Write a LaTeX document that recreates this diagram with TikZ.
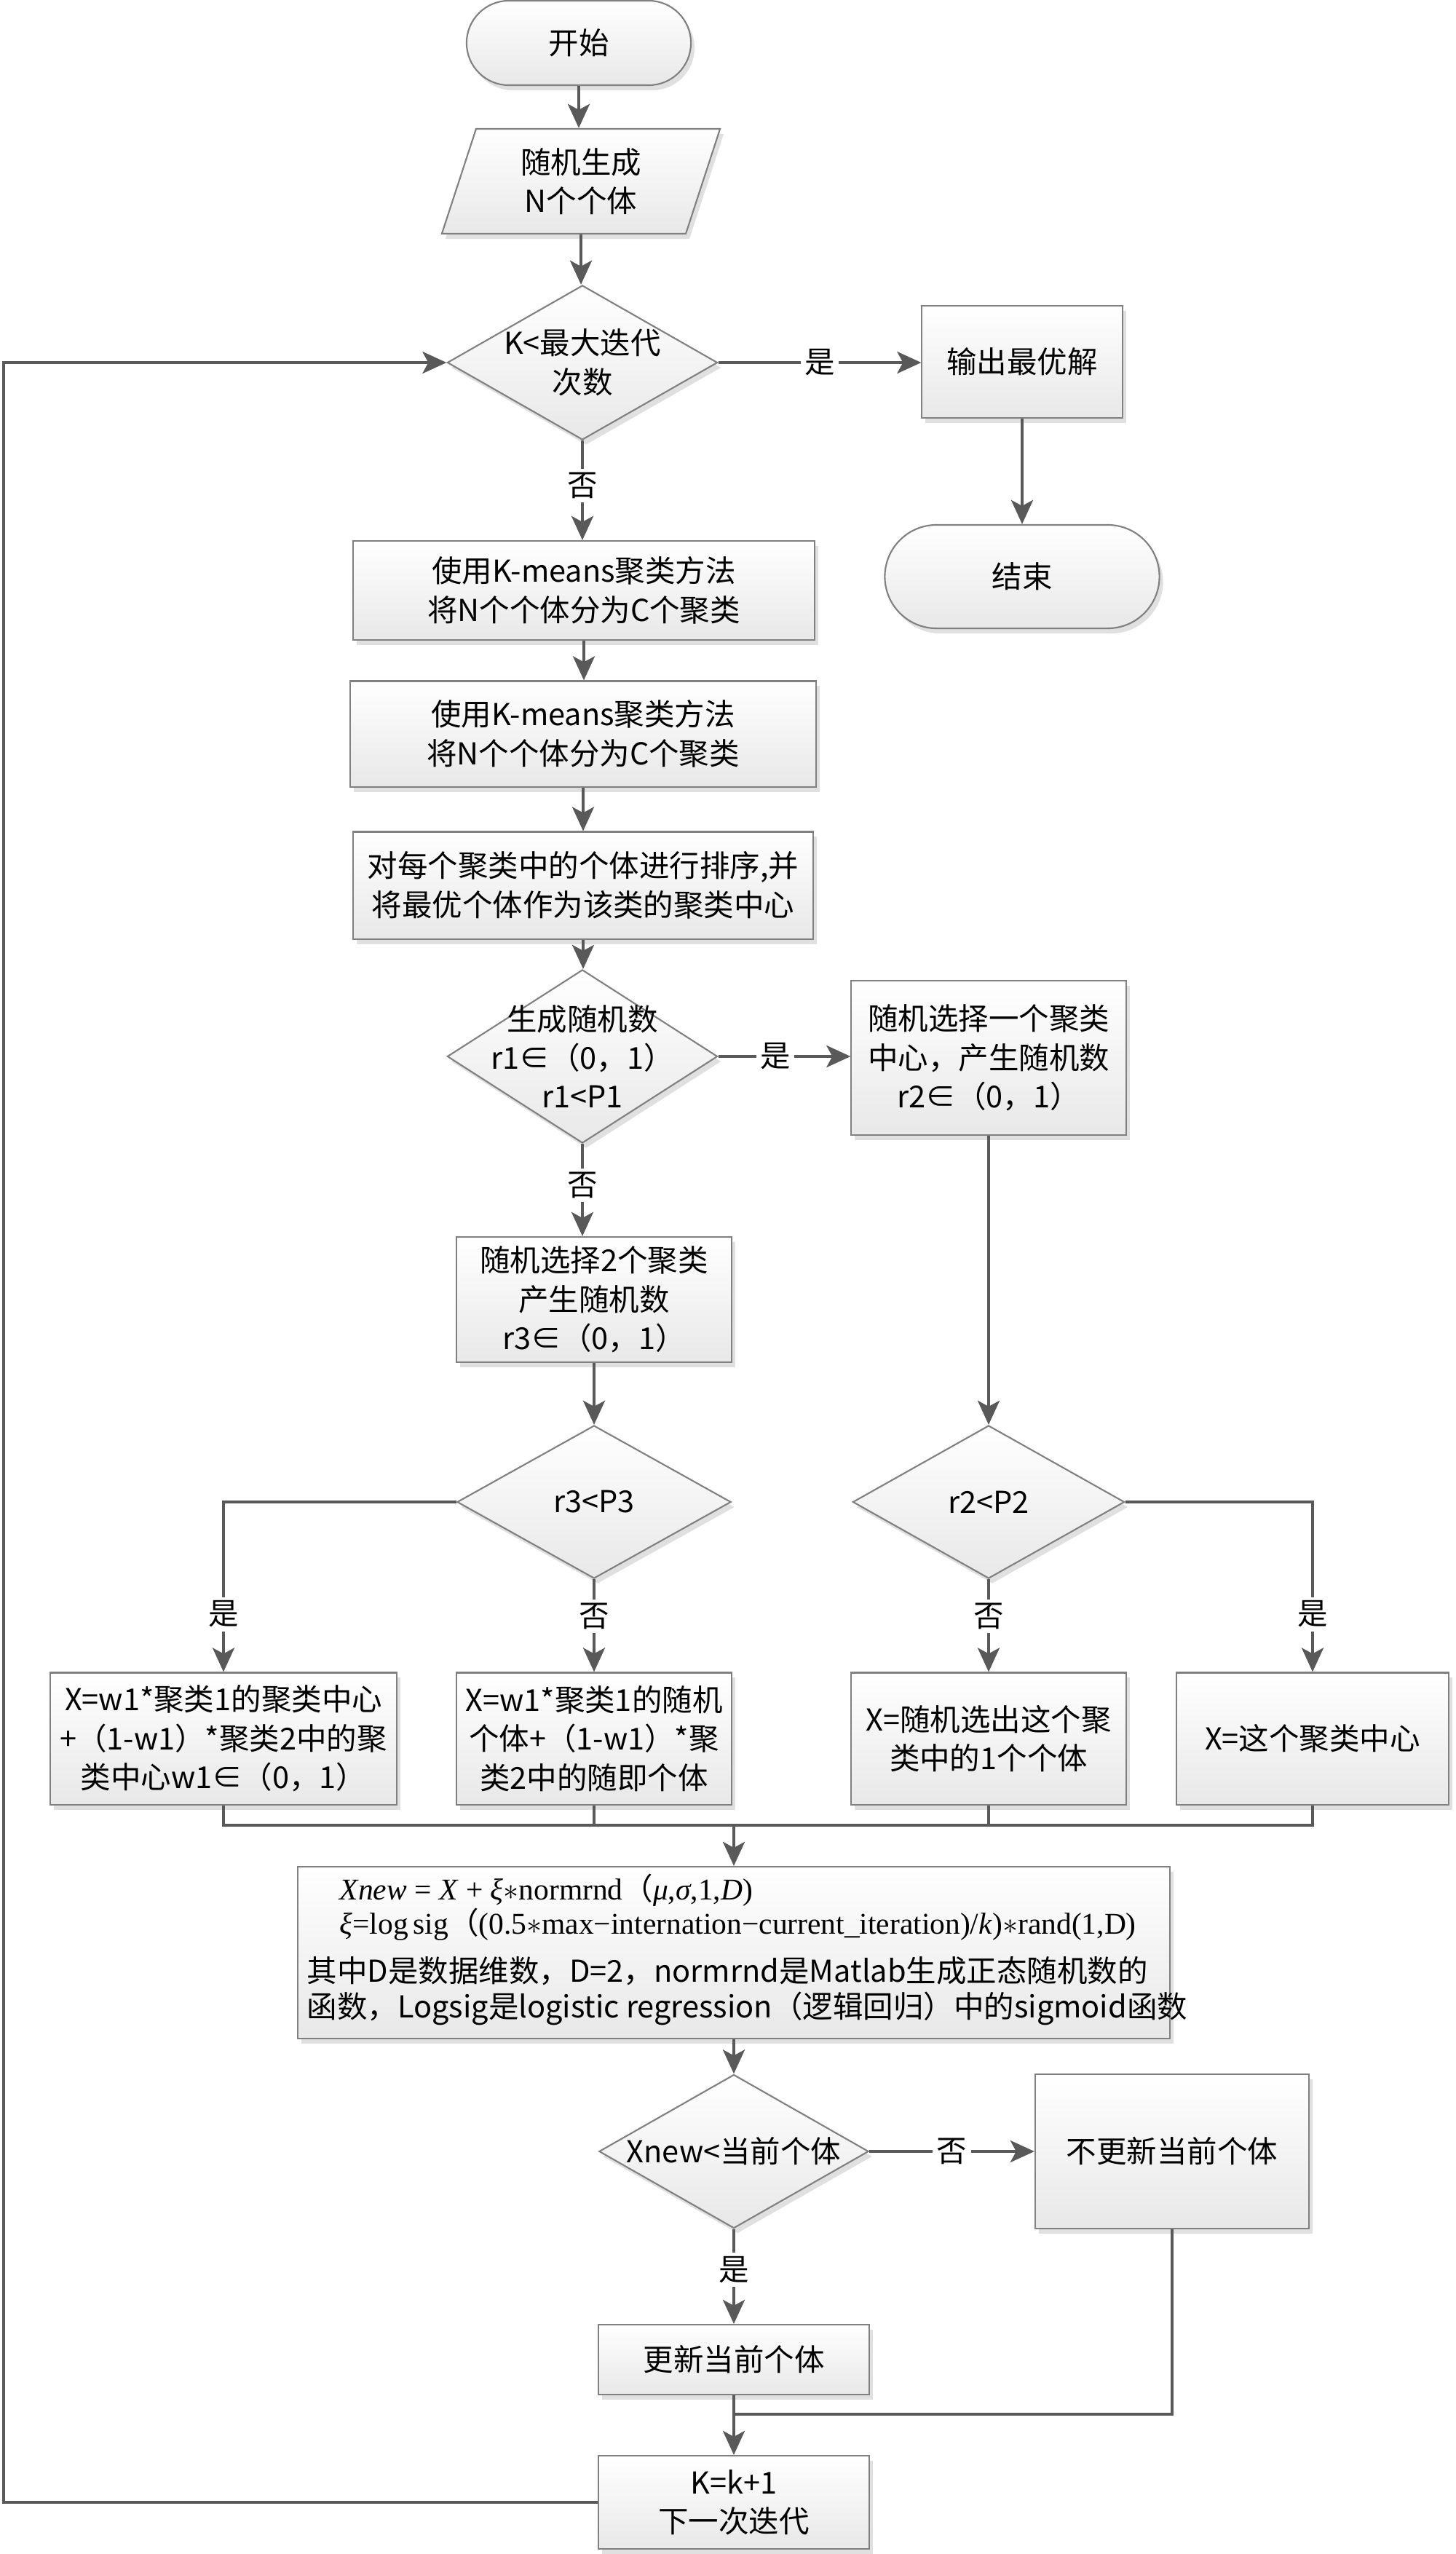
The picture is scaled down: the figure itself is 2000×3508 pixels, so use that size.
\documentclass[tikz,border=0pt]{standalone}
\usepackage{fontspec}
\setmainfont{Noto Sans CJK SC}
\newfontfamily\timesfont{Liberation Serif}
\usetikzlibrary{arrows.meta}
\usetikzlibrary{calc}
\usetikzlibrary{positioning}
\usetikzlibrary{shapes.geometric}
\usetikzlibrary{shapes.misc}
\usetikzlibrary{shadows}

\tikzset{
  shapebase/.style={draw=black!50, line width=0.6pt, top color=white,
    bottom color=black!9, inner sep=0pt, align=center,
    drop shadow={shadow xshift=0.05cm, shadow yshift=-0.07cm,
      fill=black!12, opacity=1}},
  terminal/.style={shapebase, rounded rectangle},
  process/.style={shapebase, rectangle},
  decision/.style={shapebase, diamond},
  io/.style={shapebase, trapezium, trapezium left angle=62.8,
    trapezium right angle=117.2, trapezium stretches body},
  txt/.style={inner sep=0pt, align=center},
  conn/.style={draw=black!65, line width=1.2pt},
  flow/.style={conn, -{Stealth[length=0.33cm, width=0.3cm, inset=0.08cm]}},
  lbl/.style={fill=white, inner sep=1.5pt}
}

\begin{document}
\begin{tikzpicture}[x=0.01cm, y=-0.01cm,
    font=\fontsize{11.8pt}{15.2pt}\selectfont]

  \useasboundingbox (0, 0) rectangle (2000, 3508);

  % main column
  \node [terminal, minimum width=3.08cm, minimum height=1.16cm]
  (start) at (795, 59) {开始};
  \node [io, minimum width=3.82cm, minimum height=1.44cm]
  (input) at (798, 249) {随机生成\\N个个体};
  \node [decision, minimum width=3.71cm, minimum height=2.12cm]
  (cond1) at (800, 498) {};
  \node [txt] (cond1t) at (cond1) {K<最大迭代\\次数};
  \node [process, minimum width=2.75cm, minimum height=1.54cm]
  (output) at (1404, 497) {输出最优解};
  \node [terminal, minimum width=3.77cm, minimum height=1.42cm]
  (end) at (1404, 792) {结束};
  \node [process, minimum width=6.34cm, minimum height=1.36cm]
  (kmeansA) at (802, 811) {使用K-means聚类方法\\将N个个体分为C个聚类};
  \node [process, minimum width=6.40cm, minimum height=1.45cm]
  (kmeansB) at (801, 1008) {使用K-means聚类方法\\将N个个体分为C个聚类};
  \node [process, minimum width=6.31cm, minimum height=1.47cm]
  (sort) at (801, 1216) {对每个聚类中的个体进行排序,并\\将最优个体作为该类的聚类中心};

  % branch on r1
  \node [decision, minimum width=3.71cm, minimum height=2.38cm]
  (cond2) at (800, 1451) {};
  \node [txt] (cond2t) at (cond2) {生成随机数\\r1∈（0，1）\\r1<P1};
  \node [process, minimum width=3.77cm, minimum height=2.12cm]
  (pickone) at (1358, 1453) {随机选择一个聚类\\中心，产生随机数\\r2∈（0，1）};
  \node [process, minimum width=3.77cm, minimum height=1.72cm]
  (picktwo) at (816, 1785) {随机选择2个聚类\\产生随机数\\r3∈（0，1）};

  % branches on r3 and r2
  \node [decision, minimum width=3.76cm, minimum height=2.10cm]
  (cond3) at (816, 2063) {};
  \node [txt] (cond3t) at (cond3) {r3<P3};
  \node [decision, minimum width=3.73cm, minimum height=2.10cm]
  (cond4) at (1358, 2063) {};
  \node [txt] (cond4t) at (cond4) {r2<P2};

  \node [process, minimum width=4.75cm, minimum height=1.81cm]
  (xa) at (307, 2388) {X=w1*聚类1的聚类中心\\+（1-w1）*聚类2中的聚\\类中心w1∈（0，1）};
  \node [process, minimum width=3.77cm, minimum height=1.81cm]
  (xb) at (816, 2388) {X=w1*聚类1的随机\\个体+（1-w1）*聚\\类2中的随即个体};
  \node [process, minimum width=3.77cm, minimum height=1.81cm]
  (xc) at (1358, 2388) {X=随机选出这个聚\\类中的1个个体};
  \node [process, minimum width=3.74cm, minimum height=1.81cm]
  (xd) at (1803, 2388) {X=这个聚类中心};

  % update step
  \node [process, minimum width=11.98cm, minimum height=2.36cm]
  (update) at (1008, 2682) {};
  \node [txt, anchor=west] (eqA) at (466, 2596)
  {\timesfont\textit{Xnew} = \textit{X} + \textit{ξ}$\ast$normrnd{\rmfamily（}\textit{μ},\textit{σ},1,\textit{D})};
  \node [txt, anchor=west] (eqB) at (466, 2643)
  {\timesfont\textit{ξ}=log\,sig{\rmfamily（}(0.5$\ast$max−internation−current\_iteration)/\textit{k})$\ast$rand(1,D)};
  \node [txt, anchor=west] (noteA) at (421, 2707)
  {其中D是数据维数，D=2，normrnd是Matlab生成正态随机数的};
  \node [txt, anchor=west] (noteB) at (421, 2759)
  {函数，Logsig是logistic regression（逻辑回归）中的sigmoid函数};

  \node [decision, minimum width=3.70cm, minimum height=2.11cm]
  (cond5) at (1008, 2955) {};
  \node [txt] (cond5t) at (cond5) {Xnew<当前个体};
  \node [process, minimum width=3.76cm, minimum height=2.12cm]
  (keep) at (1610, 2955) {不更新当前个体};
  \node [process, minimum width=3.72cm, minimum height=0.96cm]
  (replace) at (1008, 3241) {更新当前个体};
  \node [process, minimum width=3.72cm, minimum height=1.28cm]
  (next) at (1008, 3437) {K=k+1\\下一次迭代};

  \coordinate (merge) at (1008, 2507);
  \coordinate (join) at (1008, 3316);
  \coordinate (loop) at (5, 3437);

  % connectors
  \draw [flow] (start.south) -- (start.south |- input.north);
  \draw [flow] (input.south) -- (input.south |- cond1.north);
  \draw [flow] (cond1.east) -- node [lbl] {是} (cond1.east -| output.west);
  \draw [flow] (output.south) -- (end.north);
  \draw [flow] (cond1.south) -- node [lbl, pos=0.45] {否}
  (cond1.south |- kmeansA.north);
  \draw [flow] (kmeansA.south) -- (kmeansA.south |- kmeansB.north);
  \draw [flow] (kmeansB.south) -- (kmeansB.south |- sort.north);
  \draw [flow] (sort.south) -- (sort.south |- cond2.north);
  \draw [flow] (cond2.east) -- node [lbl, pos=0.43] {是}
  (cond2.east -| pickone.west);
  \draw [flow] (cond2.south) -- node [lbl, pos=0.45] {否}
  (cond2.south |- picktwo.north);
  \draw [flow] (picktwo.south) -- (cond3.north);
  \draw [flow] (pickone.south) -- (cond4.north);

  \draw [flow] (cond3.west) -| node [lbl, pos=0.83] {是} (xa.north);
  \draw [flow] (cond3.south) -- node [lbl, pos=0.4] {否} (xb.north);
  \draw [flow] (cond4.south) -- node [lbl, pos=0.4] {否} (xc.north);
  \draw [flow] (cond4.east) -| node [lbl, pos=0.83] {是} (xd.north);

  \draw [conn] (xa.south) |- (merge);
  \draw [conn] (xd.south) |- (merge);
  \draw [conn] (xb.south) -- (xb.south |- merge);
  \draw [conn] (xc.south) -- (xc.south |- merge);
  \draw [flow] (merge) -- (update.north);

  \draw [flow] (update.south) -- (cond5.north);
  \draw [flow] (cond5.east) -- node [lbl] {否} (keep.west);
  \draw [flow] (cond5.south) -- node [lbl, pos=0.43] {是} (replace.north);
  \draw [flow] (replace.south) -- (next.north);
  \draw [conn] (keep.south) |- (join);

  % back to the test on K
  \draw [flow] (next.west) -- (loop) |- (cond1.west);

\end{tikzpicture}
\end{document}
